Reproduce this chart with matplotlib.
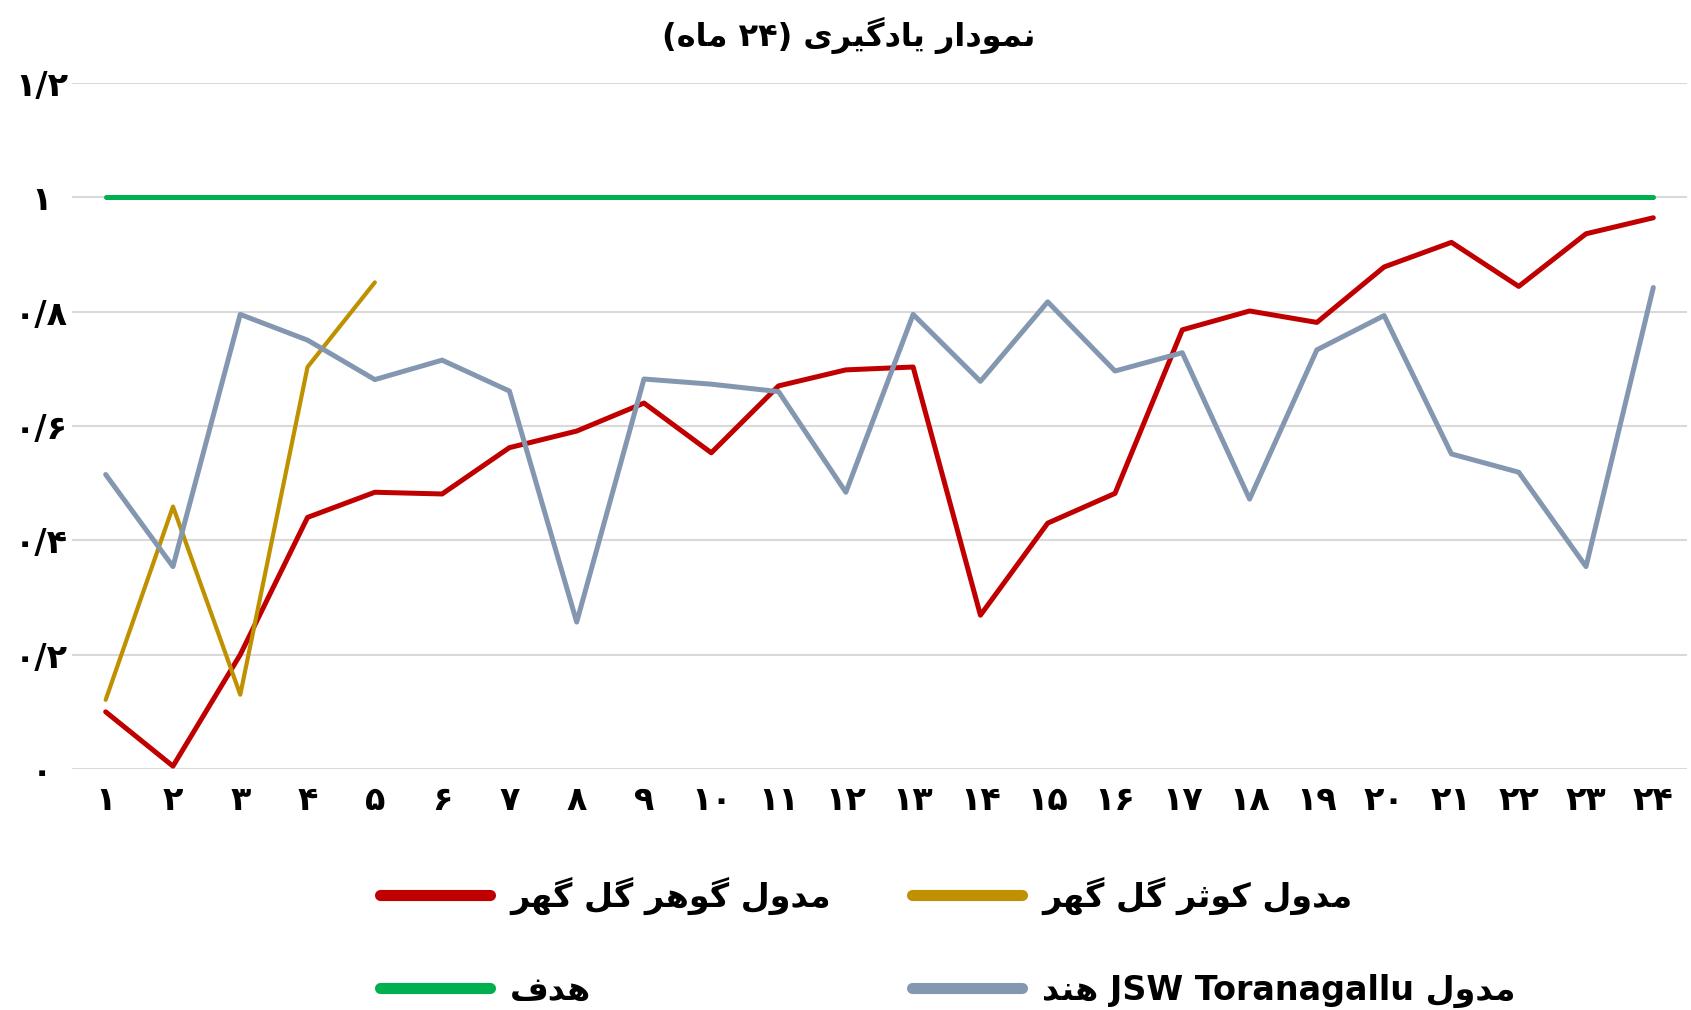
import matplotlib
matplotlib.use("Agg")
import matplotlib.pyplot as plt

# ---- data ----
months = list(range(1, 25))
gohar = [0.10, 0.005, 0.20, 0.44, 0.484, 0.481, 0.562, 0.591, 0.640, 0.553, 0.670, 0.698,
         0.703, 0.269, 0.430, 0.482, 0.768, 0.801, 0.781, 0.878, 0.921, 0.844, 0.936, 0.964]
kowsar = [0.121, 0.459, 0.130, 0.703, 0.851]
target = [1.0] * 24
jsw = [0.515, 0.354, 0.795, 0.750, 0.681, 0.715, 0.661, 0.257, 0.682, 0.673, 0.660, 0.484,
       0.795, 0.678, 0.817, 0.696, 0.728, 0.472, 0.733, 0.793, 0.551, 0.519, 0.354, 0.842]
yticks = [0, 0.2, 0.4, 0.6, 0.8, 1.0, 1.2]

title = "نمودار یادگیری (۲۴ ماه)"
label_gohar = "مدول گوهر گل گهر"
label_kowsar = "مدول کوثر گل گهر"
label_target = "هدف"
label_jsw = "مدول JSW Toranagallu هند"

# ---- tiny persian shaper (matplotlib has no arabic shaping) ----
FORMS = {
    'ا': ('\uFE8D', '\uFE8E', None, None),
    'د': ('\uFEA9', '\uFEAA', None, None),
    'ر': ('\uFEAD', '\uFEAE', None, None),
    'و': ('\uFEED', '\uFEEE', None, None),
    'ن': ('\uFEE5', '\uFEE6', '\uFEE7', '\uFEE8'),
    'م': ('\uFEE1', '\uFEE2', '\uFEE3', '\uFEE4'),
    'ل': ('\uFEDD', '\uFEDE', '\uFEDF', '\uFEE0'),
    'ه': ('\uFEE9', '\uFEEA', '\uFEEB', '\uFEEC'),
    'ف': ('\uFED1', '\uFED2', '\uFED3', '\uFED4'),
    'ث': ('\uFE99', '\uFE9A', '\uFE9B', '\uFE9C'),
    'ک': ('\uFB8E', '\uFB8F', '\uFB90', '\uFB91'),
    'گ': ('\uFB92', '\uFB93', '\uFB94', '\uFB95'),
    'ی': ('\uFBFC', '\uFBFD', '\uFBFE', '\uFBFF'),
}
MIRROR = {'(': ')', ')': '('}


def shape(s):
    out = []
    for i, ch in enumerate(s):
        if ch not in FORMS:
            out.append(ch)
            continue
        prev = s[i - 1] if i > 0 else ''
        nxt = s[i + 1] if i + 1 < len(s) else ''
        joins_prev = prev in FORMS and FORMS[prev][2] is not None
        joins_next = nxt in FORMS and FORMS[ch][2] is not None
        iso, fin, ini, med = FORMS[ch]
        if joins_prev and joins_next:
            out.append(med)
        elif joins_prev:
            out.append(fin)
        elif joins_next:
            out.append(ini)
        else:
            out.append(iso)
    return ''.join(out)


def is_ltr(ch):
    return ch.isascii() and ch.isalnum() or '\u06F0' <= ch <= '\u06F9'


def rtl(s):
    s = shape(s)
    runs = []
    i = 0
    while i < len(s):
        ltr = is_ltr(s[i])
        j = i
        while j < len(s):
            if is_ltr(s[j]) == ltr:
                j += 1
            elif ltr and s[j] == ' ' and j + 1 < len(s) and is_ltr(s[j + 1]):
                j += 1
            else:
                break
        runs.append((ltr, s[i:j]))
        i = j
    res = ''
    for ltr, txt in reversed(runs):
        if ltr:
            res += txt
        else:
            res += ''.join(MIRROR.get(c, c) for c in reversed(txt))
    return res


fa_digits = str.maketrans("0123456789", "۰۱۲۳۴۵۶۷۸۹")


def fa(v):
    return ("%g" % v).replace(".", "/").translate(fa_digits)


plt.rcParams['font.family'] = ['DejaVu Sans']
plt.rcParams['font.weight'] = 'bold'

fig = plt.figure(figsize=(16.91, 10.10), dpi=100)
ax = fig.add_axes([0.0426, 0.2386, 0.955, 0.6794])

ax.plot(months, gohar, color="#C00000", lw=3.6, label=rtl(label_gohar), solid_capstyle='round')
ax.plot(months, target, color="#00B050", lw=3.6, label=rtl(label_target), solid_capstyle='round')
ax.plot(months[:len(kowsar)], kowsar, color="#BF9000", lw=3.0, label=rtl(label_kowsar),
        solid_capstyle='round')
ax.plot(months, jsw, color="#8497B0", lw=3.6, label=rtl(label_jsw), solid_capstyle='round')

ax.set_xlim(0.5, 24.5)
ax.set_ylim(0, 1.2)
ax.set_yticks(yticks)
ax.set_yticklabels([fa(v) for v in yticks], fontsize=24, fontweight='bold', ha='center')
ax.set_xticks(months)
ax.set_xticklabels([str(m).translate(fa_digits) for m in months], fontsize=24, fontweight='bold')
ax.tick_params(axis='y', length=0, pad=22)
ax.tick_params(axis='x', length=0, pad=11)
ax.grid(axis='y', color="#D9D9D9", lw=1.5)
ax.set_axisbelow(True)
for sp in ax.spines.values():
    sp.set_visible(False)

fig.text(0.502, 0.965, rtl(title), ha='center', va='center', fontsize=23, fontweight='bold')

leg = fig.legend(loc='center left', bbox_to_anchor=(0.207, 0.067), ncol=2, frameon=False,
                 handlelength=3.3, handletextpad=0.6, columnspacing=2.45, labelspacing=1.75,
                 prop={'weight': 'bold', 'size': 24})
for line in leg.get_lines():
    line.set_linewidth(8)
    line.set_solid_capstyle('round')

fig.savefig("out.png", dpi=100)
